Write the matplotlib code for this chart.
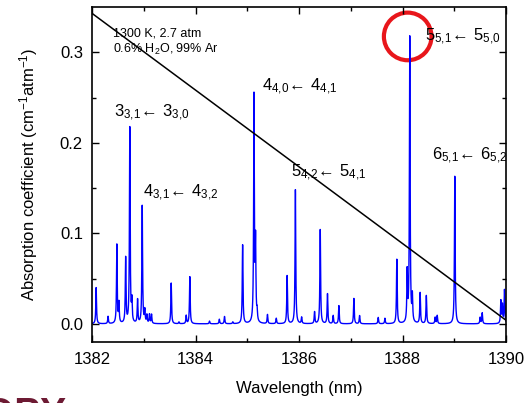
import numpy as np
import matplotlib
matplotlib.use("Agg")
import matplotlib.pyplot as plt
from matplotlib.patches import Ellipse

plt.rcParams['font.family'] = ['Liberation Sans', 'DejaVu Sans']
plt.rcParams['mathtext.fontset'] = 'custom'
plt.rcParams['mathtext.rm'] = 'Liberation Sans'
plt.rcParams['mathtext.it'] = 'Liberation Sans:italic'
plt.rcParams['mathtext.bf'] = 'Liberation Sans:bold'

# line centres (nm) and peak heights (cm-1 atm-1)
centers = [1382.08, 1382.31, 1382.48, 1382.52, 1382.65, 1382.73, 1382.77, 1382.88,
           1382.97, 1383.02, 1383.06, 1383.11, 1383.15, 1383.53, 1383.68, 1383.82,
           1383.89, 1384.27, 1384.46, 1384.56, 1384.72, 1384.91, 1385.13, 1385.16,
           1385.19, 1385.39, 1385.56, 1385.77, 1385.93, 1386.05, 1386.30, 1386.41,
           1386.55, 1386.66, 1386.77, 1387.06, 1387.17, 1387.53, 1387.66, 1387.89,
           1388.09, 1388.14, 1388.19, 1388.34, 1388.46, 1388.63, 1388.67, 1389.01,
           1389.50, 1389.54, 1389.90, 1389.93, 1389.97]
heights = [0.040, 0.008, 0.087, 0.022, 0.072, 0.216, 0.023, 0.026,
           0.130, 0.014, 0.009, 0.010, 0.010, 0.045, 0.002, 0.009,
           0.052, 0.003, 0.005, 0.008, 0.002, 0.087, 0.250, 0.086,
           0.010, 0.010, 0.006, 0.053, 0.148, 0.007, 0.013, 0.104,
           0.033, 0.009, 0.020, 0.028, 0.009, 0.007, 0.006, 0.071,
           0.055, 0.316, 0.028, 0.034, 0.031, 0.007, 0.009, 0.163,
           0.007, 0.012, 0.025, 0.020, 0.037]
hwhm = 0.008

# straight reference line endpoints
line_x = [1382.0, 1390.0]
line_y = [0.343, 0.004]

labels = [r"$\mathregular{3_{3{,}1}\!\leftarrow\,3_{3{,}0}}$",
          r"$\mathregular{4_{3{,}1}\!\leftarrow\,4_{3{,}2}}$",
          r"$\mathregular{4_{4{,}0}\!\leftarrow\,4_{4{,}1}}$",
          r"$\mathregular{5_{4{,}2}\!\leftarrow\,5_{4{,}1}}$",
          r"$\mathregular{5_{5{,}1}\!\leftarrow\,5_{5{,}0}}$",
          r"$\mathregular{6_{5{,}1}\!\leftarrow\,6_{5{,}2}}$"]
label_x = [1382.43, 1382.99, 1385.28, 1385.85, 1388.43, 1388.56]
label_y = [0.2286, 0.1404, 0.2573, 0.1624, 0.3130, 0.1816]

wl = np.linspace(1382, 1390, 16001)
spec = np.zeros_like(wl)
for c, h in zip(centers, heights):
    spec += h * hwhm**2 / ((wl - c)**2 + hwhm**2)

fig = plt.figure(figsize=(5.27, 4.03), dpi=100)
ax = fig.add_axes([0.1746, 0.1514, 0.7856, 0.8312])

ax.plot(wl, spec, color='#0000ff', lw=1.0)
ax.plot(line_x, line_y, color='black', lw=1.1)

for t, x, y in zip(labels, label_x, label_y):
    ax.text(x, y, t, fontsize=12, ha='left', va='baseline')

ax.text(1382.41, 0.3175, "1300 K, 2.7 atm", fontsize=9, va='baseline')
ax.text(1382.41, 0.299, r"0.6% H$\mathregular{_2}$O, 99% Ar", fontsize=9, va='baseline')

ax.add_patch(Ellipse((1388.10, 0.3175), 0.92, 0.0526, fill=False,
                     edgecolor='#e8161b', lw=3.0, clip_on=False))

ax.set_xlim(1382, 1390)
ax.set_ylim(-0.02, 0.35)
ax.set_xticks([1382, 1384, 1386, 1388, 1390])
ax.set_xticks([1383, 1385, 1387, 1389], minor=True)
ax.set_yticks([0.0, 0.1, 0.2, 0.3])
ax.set_yticklabels(["0.0", "0.1", "0.2", "0.3"])
ax.set_yticks([0.05, 0.15, 0.25], minor=True)
ax.tick_params(which='both', direction='in', top=True, right=True, labelsize=12,
               width=1.0)
ax.tick_params(which='major', length=5)
ax.tick_params(which='minor', length=3)
ax.tick_params(axis='x', pad=7)
ax.tick_params(axis='y', pad=6.5)
for s in ax.spines.values():
    s.set_linewidth(1.2)

ax.set_xlabel("Wavelength (nm)", fontsize=12, labelpad=10)
ax.set_ylabel(r"Absorption coefficient (cm$\mathregular{^{-1}}$atm$\mathregular{^{-1}}$)",
              fontsize=12, labelpad=14)

fig.text(66 / 527, 1 - 397 / 403, "COPY", fontsize=28, fontweight='bold',
         color='#6d1a33', ha='right', va='top')

fig.savefig("out.png", dpi=100)
